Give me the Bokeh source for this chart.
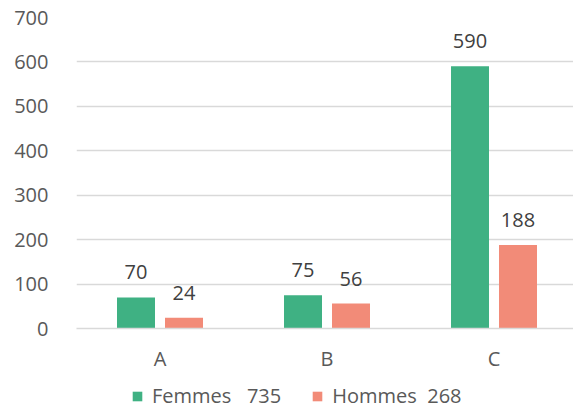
from bokeh.plotting import figure
from bokeh.layouts import column
from bokeh.models import ColumnDataSource, Range1d, FixedTicker, Legend, LegendItem
from bokeh.transform import dodge
from bokeh.core.properties import value
from bokeh.embed import file_html
from bokeh.resources import INLINE

categories = ["A", "B", "C"]
femmes = [70, 75, 590]
hommes = [24, 56, 188]
series_names = ["Femmes", "Hommes"]
y_ticks = [0, 100, 200, 300, 400, 500, 600, 700]

FONT = "Open Sans"
GREEN = "#3FB183"
SALMON = "#F28B78"
GRID = "#D9D9D9"
TICK = "#595959"
LABEL = "#404040"

pos = [i + 0.5 for i in range(len(categories))]
src = ColumnDataSource(dict(
    x=pos, femmes=femmes, hommes=hommes,
    femmes_lbl=[str(v) for v in femmes],
    hommes_lbl=[str(v) for v in hommes],
))

H1 = 375
p = figure(width=573, height=H1, output_backend="svg", toolbar_location=None,
           x_range=Range1d(0, 2.976), y_range=Range1d(0, 700),
           min_border_left=76, min_border_right=0, min_border_top=17,
           min_border_bottom=H1 - 328)
p.outline_line_color = None
p.background_fill_color = "white"

off = 0.1437
bw = 0.2275
r1 = p.vbar(x=dodge("x", -off), top="femmes", width=bw, source=src,
            fill_color=GREEN, line_color=None)
r2 = p.vbar(x=dodge("x", off), top="hommes", width=bw, source=src,
            fill_color=SALMON, line_color=None)

for col, lbl, o in (("femmes", "femmes_lbl", -off), ("hommes", "hommes_lbl", off)):
    p.text(x=dodge("x", o), y=col, text=lbl, source=src,
           text_font=value(FONT), text_font_size="20px", text_color=LABEL,
           text_align="center", text_baseline="alphabetic", y_offset=-25)

# axes
p.yaxis.ticker = FixedTicker(ticks=y_ticks)
p.yaxis.axis_line_color = None
p.yaxis.major_tick_line_color = None
p.yaxis.minor_tick_line_color = None
p.yaxis.major_label_text_font = FONT
p.yaxis.major_label_text_font_size = "20px"
p.yaxis.major_label_text_color = TICK
p.yaxis.major_label_standoff = 22

p.xaxis.ticker = FixedTicker(ticks=pos)
p.xaxis.major_label_overrides = {pos[i]: c for i, c in enumerate(categories)}
p.xaxis.axis_line_color = GRID
p.xaxis.axis_line_width = 1.5
p.xaxis.major_tick_line_color = None
p.xaxis.minor_tick_line_color = None
p.xaxis.major_label_text_font = FONT
p.xaxis.major_label_text_font_size = "20px"
p.xaxis.major_label_text_color = TICK
p.xaxis.major_label_standoff = 10

p.xgrid.grid_line_color = None
p.ygrid.grid_line_color = GRID
p.ygrid.grid_line_width = 1.5

# legend strip below the chart (same series, drawn far outside its visible ranges)
H2 = 411 - H1
pl = figure(width=573, height=H2, output_backend="svg", toolbar_location=None,
            x_range=Range1d(100, 101), y_range=Range1d(1000, 1001),
            min_border=0, min_border_left=0, min_border_right=0,
            min_border_top=0, min_border_bottom=0)
pl.axis.visible = False
pl.grid.visible = False
pl.outline_line_color = None
lr1 = pl.vbar(x="x", top="femmes", width=bw, source=src,
              fill_color=GREEN, line_color=None)
lr2 = pl.vbar(x="x", top="hommes", width=bw, source=src,
              fill_color=SALMON, line_color=None)

legend = Legend(items=[
    LegendItem(label=series_names[0] + "\u00a0\u00a0\u00a0" + str(sum(femmes)), renderers=[lr1]),
    LegendItem(label=series_names[1] + "\u00a0\u00a0" + str(sum(hommes)), renderers=[lr2]),
], orientation="horizontal", location=(55, 2))
legend.glyph_width = 12
legend.glyph_height = 12
legend.label_standoff = 9
legend.spacing = 30
legend.padding = 0
legend.margin = 0
legend.border_line_color = None
legend.background_fill_alpha = 0
legend.label_text_font = FONT
legend.label_text_font_size = "20px"
legend.label_text_color = TICK
pl.add_layout(legend)

layout = column(p, pl, spacing=0)
open("out.html", "w").write(file_html(layout, INLINE))
